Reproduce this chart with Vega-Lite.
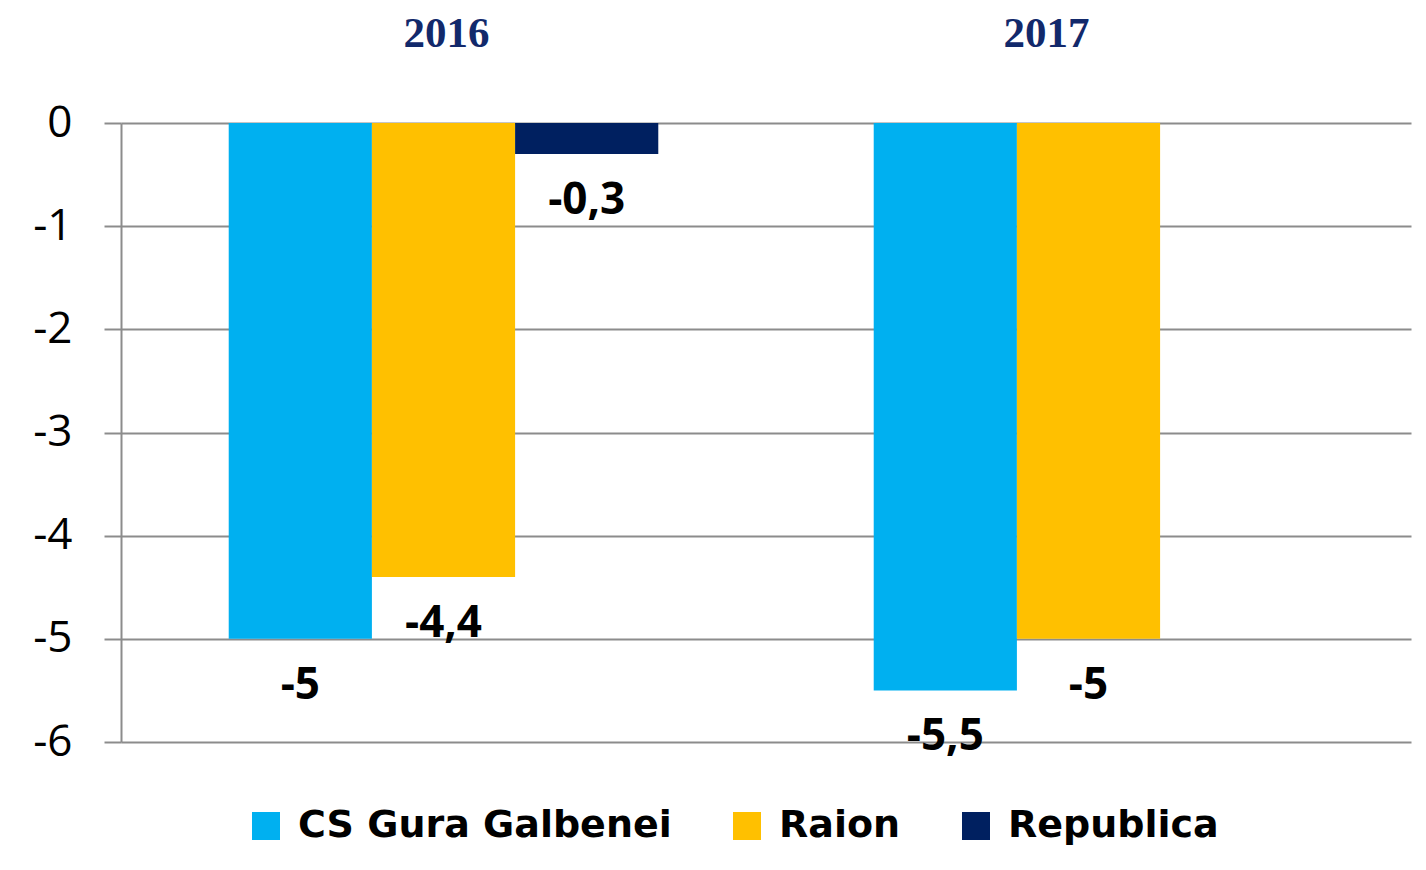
{
  "$schema": "https://vega.github.io/schema/vega-lite/v6.json",
  "width": 1290,
  "height": 619,
  "autosize": {"type": "none"},
  "padding": {"left": 121, "top": 123, "right": 15, "bottom": 128},
  "background": "white",
  "data": {
    "values": [
      {"year": "2016", "series": "CS Gura Galbenei", "value": -5, "label": "-5"},
      {"year": "2016", "series": "Raion", "value": -4.4, "label": "-4,4"},
      {"year": "2016", "series": "Republica", "value": -0.3, "label": "-0,3"},
      {"year": "2017", "series": "CS Gura Galbenei", "value": -5.5, "label": "-5,5"},
      {"year": "2017", "series": "Raion", "value": -5, "label": "-5"}
    ]
  },
  "encoding": {
    "x": {
      "field": "year",
      "type": "nominal",
      "sort": ["2016", "2017"],
      "scale": {"paddingInner": 0.334, "paddingOuter": 0.167},
      "axis": {
        "orient": "top",
        "title": null,
        "domain": false,
        "ticks": false,
        "tickSize": 0,
        "labelAngle": 0,
        "labelFont": "Liberation Serif",
        "labelFontWeight": "bold",
        "labelFontSize": 43,
        "labelColor": "#12296B",
        "labelBaseline": "alphabetic",
        "labelPadding": 77,
        "labelOffset": {"condition": {"test": "datum.value === '2017'", "value": -42}, "value": 3}
      }
    },
    "xOffset": {
      "field": "series",
      "type": "nominal",
      "scale": {"domain": ["CS Gura Galbenei", "Raion", "Republica"], "paddingInner": 0, "paddingOuter": 0}
    },
    "y": {
      "field": "value",
      "type": "quantitative",
      "scale": {"domain": [-6, 0], "nice": false},
      "axis": {
        "title": null,
        "values": [0, -1, -2, -3, -4, -5, -6],
        "labelExpr": "'' + datum.value",
        "grid": true,
        "gridColor": "#8c8c8c",
        "gridWidth": 2,
        "domain": true,
        "domainColor": "#8c8c8c",
        "domainWidth": 2,
        "ticks": true,
        "tickSize": 17,
        "tickColor": "#8c8c8c",
        "tickWidth": 2,
        "labelFont": "Open Sans",
        "labelFontSize": 44,
        "labelColor": "black",
        "labelPadding": 32
      }
    }
  },
  "layer": [
    {
      "mark": {"type": "bar"},
      "encoding": {
        "color": {
          "field": "series",
          "type": "nominal",
          "scale": {"domain": ["CS Gura Galbenei", "Raion", "Republica"], "range": ["#00B0F0", "#FFC000", "#002060"]},
          "legend": {
            "orient": "none",
            "legendX": 126,
            "legendY": 684,
            "direction": "horizontal",
            "title": null,
            "padding": 0,
            "symbolType": "square",
            "symbolSize": 784,
            "symbolStrokeWidth": 0,
            "symbolOpacity": 1,
            "labelFont": "DejaVu Sans",
            "labelFontWeight": "bold",
            "labelFontSize": 38,
            "labelColor": "black",
            "labelLimit": 600,
            "labelOffset": 13,
            "columnPadding": 56
          }
        }
      }
    },
    {
      "mark": {"type": "text", "font": "Open Sans", "fontWeight": "bold", "fontSize": 44, "color": "black", "baseline": "alphabetic", "align": "center", "dy": 60},
      "encoding": {
        "text": {"field": "label", "type": "nominal"}
      }
    }
  ],
  "config": {
    "view": {"stroke": null}
  }
}
